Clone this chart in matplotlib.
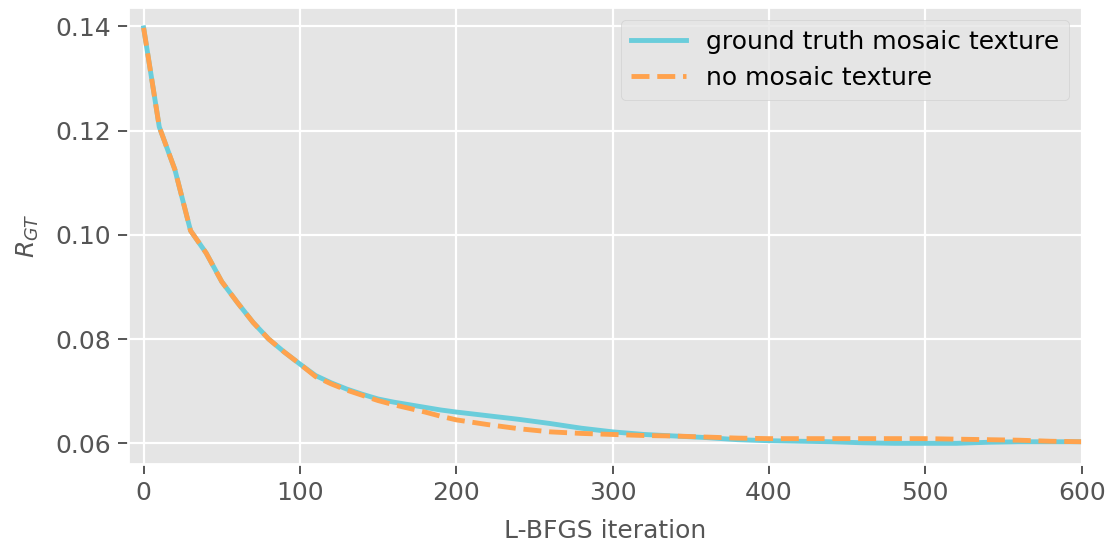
import matplotlib
matplotlib.use("Agg")
import matplotlib.pyplot as plt

plt.style.use("ggplot")

iters = [0, 10, 20, 30, 40, 50, 60, 70, 80, 90, 100, 110, 120, 130, 140, 150,
         160, 170, 180, 190, 200, 220, 240, 260, 280, 300, 320, 340, 360, 380,
         400, 420, 440, 460, 480, 500, 520, 540, 560, 580, 600]

gt_mosaic = [0.1397, 0.1207, 0.1125, 0.1008, 0.0965, 0.0910, 0.0870, 0.0832,
             0.0800, 0.0775, 0.0752, 0.0730, 0.0716, 0.0704, 0.0694, 0.0685,
             0.0679, 0.0674, 0.0669, 0.0664, 0.0660, 0.0653, 0.0646, 0.0638,
             0.0629, 0.0622, 0.0617, 0.0614, 0.0611, 0.0607, 0.0605, 0.0604,
             0.0603, 0.0601, 0.0600, 0.0600, 0.0600, 0.0602, 0.0603, 0.0603,
             0.0603]

no_mosaic = [0.1397, 0.1207, 0.1125, 0.1008, 0.0965, 0.0910, 0.0870, 0.0832,
             0.0800, 0.0775, 0.0752, 0.0728, 0.0714, 0.0702, 0.0692, 0.0682,
             0.0674, 0.0667, 0.0660, 0.0652, 0.0645, 0.0636, 0.0628, 0.0622,
             0.0619, 0.0617, 0.0615, 0.0614, 0.0612, 0.0610, 0.0609, 0.0609,
             0.0609, 0.0609, 0.0609, 0.0609, 0.0608, 0.0607, 0.0606, 0.0604,
             0.0603]

labels = ["ground truth mosaic texture", "no mosaic texture"]
x_ticks = [0, 100, 200, 300, 400, 500, 600]
y_ticks = [0.06, 0.08, 0.10, 0.12, 0.14]

fig = plt.figure(figsize=(11.15, 5.46), dpi=100)
ax = fig.add_axes([0.1148, 0.150, 0.8553, 0.837])

ax.plot(iters, gt_mosaic, color="#6ACDDB", lw=3.5, label=labels[0])
ax.plot(iters, no_mosaic, color="#FFA24D", lw=3.5, ls="--", label=labels[1])

ax.set_xlim(-10, 600)
ax.set_xticks(x_ticks)
ax.set_yticks(y_ticks)
ax.set_yticklabels([f"{v:.2f}" for v in y_ticks])
ax.grid(True, color="white", linewidth=1.6)
for s in ax.spines.values():
    s.set_visible(True)
    s.set_color("white")
    s.set_linewidth(2.0)
ax.tick_params(labelsize=18, colors="#555555", length=7.5, width=1.4, pad=5)
for lab in ax.get_xticklabels() + ax.get_yticklabels():
    lab.set_color("#555555")

ax.set_xlabel("L-BFGS iteration", fontsize=18, color="#555555", labelpad=10)
ax.set_ylabel("$R_{GT}$", fontsize=18, color="#555555", labelpad=10)

leg = ax.legend(loc="upper right", fontsize=18, framealpha=0.8, handlelength=2.2)
for t in leg.get_texts():
    t.set_color("black")

fig.savefig("out.png", dpi=100)
